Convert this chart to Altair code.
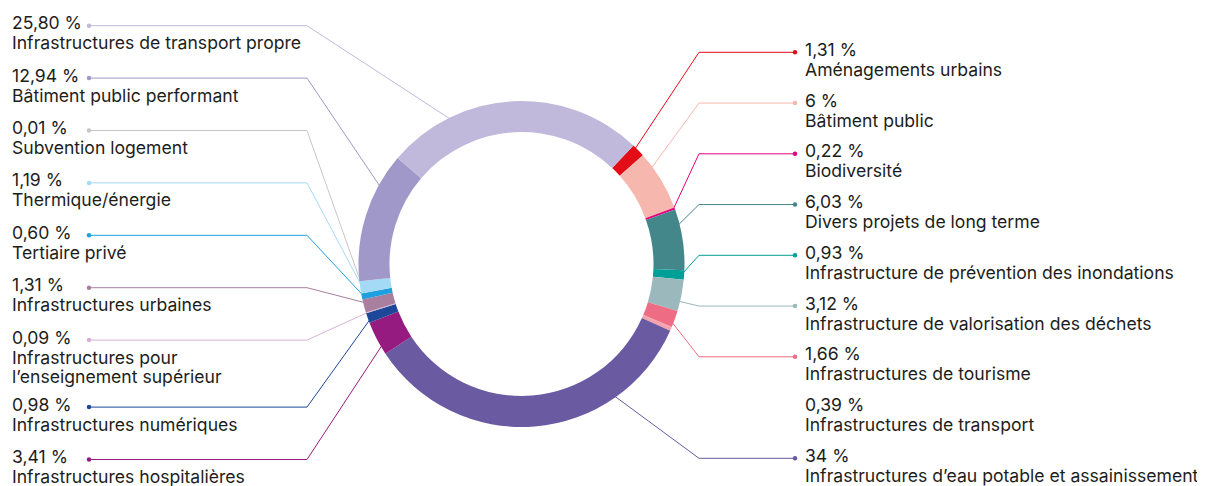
import math
import altair as alt
import pandas as pd

# ---------------- data ----------------
# right column, top -> bottom (clockwise from the top of the ring)
right_names = [
    "Aménagements urbains",
    "Bâtiment public",
    "Biodiversité",
    "Divers projets de long terme",
    "Infrastructure de prévention des inondations",
    "Infrastructure de valorisation des déchets",
    "Infrastructures de tourisme",
    "Infrastructures de transport",
    "Infrastructures d’eau potable et assainissement",
]
right_values = [1.31, 6, 0.22, 6.03, 0.93, 3.12, 1.66, 0.39, 34]
right_colors = ["#E30D18", "#F6B8AE", "#E5007D", "#44878B", "#009F97",
                "#9BB8BC", "#EE6D85", "#F4A3AF", "#6A5AA2"]

# left column, top -> bottom
left_names = [
    "Infrastructures de transport propre",
    "Bâtiment public performant",
    "Subvention logement",
    "Thermique/énergie",
    "Tertiaire privé",
    "Infrastructures urbaines",
    "Infrastructures pour\nl’enseignement supérieur",
    "Infrastructures numériques",
    "Infrastructures hospitalières",
]
left_values = [25.80, 12.94, 0.01, 1.19, 0.60, 1.31, 0.09, 0.98, 3.41]
left_colors = ["#C0B9DC", "#A098C9", "#C6C6C6", "#A4DAF6", "#1EA0E0",
               "#A87F9F", "#D8B2D6", "#1D4899", "#951B81"]

no_leader = ["Infrastructures de transport"]

# ---------------- layout ----------------
W, H = 1189, 478          # view size (page margin 8px)
OFF = 8
CX, CY = 521.5, 264.0     # ring centre (page coords)
R_OUT, R_IN = 163, 132
START_DEG = 43.4
FONT = "Inter"
FS = 17.6
TEXT_COL = "#1d1d1b"

L_TEXT_X, L_DOT_X, L_ELBOW_X = 12, 89, 307
R_TEXT_X, R_DOT_X, R_ELBOW_X = 805, 795, 699
L_Y0, L_STEP, EXTRA_LINE = 25.7, 52.4, 14.6
R_Y0, R_STEP = 52.3, 50.75


def fmt(v):
    if float(v).is_integer():
        return f"{int(v)} %"
    return f"{v:.2f}".replace(".", ",") + " %"


# clockwise order: right top->bottom, then left bottom->top
ring_names = right_names + left_names[::-1]
ring_values = right_values + left_values[::-1]
ring_colors = right_colors + left_colors[::-1]
total = sum(ring_values)

seg = {}
acc = START_DEG
for n, v in zip(ring_names, ring_values):
    span = v / total * 360
    seg[n] = (acc, acc + span)
    acc += span

ring_df = pd.DataFrame({"name": ring_names, "value": ring_values,
                        "order": list(range(len(ring_names)))})

# row positions
rows = []
y = L_Y0
for n, v in zip(left_names, left_values):
    rows.append(dict(name=n, value=v, side="L", y=y))
    y += L_STEP + EXTRA_LINE * n.count("\n")
for i, (n, v) in enumerate(zip(right_names, right_values)):
    rows.append(dict(name=n, value=v, side="R", y=R_Y0 + i * R_STEP))

line_rows, dot_rows, val_rows, name_rows = [], [], [], []
for r in rows:
    n, side, ry = r["name"], r["side"], r["y"]
    tx = L_TEXT_X if side == "L" else R_TEXT_X
    val_rows.append(dict(px=tx, py=ry + 3.5, label=fmt(r["value"])))
    name_rows.append(dict(px=tx, py=ry + 23.5, label=n))
    if n in no_leader:
        continue
    dx_ = L_DOT_X if side == "L" else R_DOT_X
    ex = L_ELBOW_X if side == "L" else R_ELBOW_X
    a0, a1 = seg[n]
    mid = (a0 + a1) / 2
    phi = math.degrees(math.atan2(ex - CX, -(ry - CY)))
    phi = mid + ((phi - mid + 180) % 360) - 180
    pad = 0.25 * (a1 - a0)
    phi = min(max(phi, a0 + pad), a1 - pad)
    rad = math.radians(phi)
    ax = CX + (R_OUT - 1) * math.sin(rad)
    ay = CY - (R_OUT - 1) * math.cos(rad)
    for s, (px, py) in enumerate([(dx_, ry), (ex, ry), (ax, ay)]):
        line_rows.append(dict(name=n, seq=s, px=px, py=py))
    dot_rows.append(dict(name=n, px=dx_, py=ry))

lines_df = pd.DataFrame(line_rows)
dots_df = pd.DataFrame(dot_rows)
vals_df = pd.DataFrame(val_rows)
names_df = pd.DataFrame(name_rows)

xs = alt.Scale(domain=[OFF, OFF + W], zero=False, nice=False)
ys = alt.Scale(domain=[OFF, OFF + H], zero=False, nice=False, reverse=True)
cs = alt.Scale(domain=ring_names, range=ring_colors)

X = alt.X("px:Q", scale=xs, axis=None)
Y = alt.Y("py:Q", scale=ys, axis=None)

leaders = alt.Chart(lines_df).mark_line(strokeWidth=1, interpolate="linear").encode(
    x=X, y=Y, detail="name:N", order="seq:Q",
    color=alt.Color("name:N", scale=cs, legend=None),
)

ring = alt.Chart(ring_df).mark_arc(radius=R_OUT, innerRadius=R_IN).encode(
    theta=alt.Theta("value:Q", stack=True,
                    scale=alt.Scale(range=[math.radians(START_DEG),
                                           math.radians(START_DEG) + 2 * math.pi])),
    order=alt.Order("order:Q"),
    color=alt.Color("name:N", scale=cs, legend=None),
    x=alt.value(CX - OFF), y=alt.value(CY - OFF),
)

dots = alt.Chart(dots_df).mark_circle(size=20, opacity=1).encode(
    x=X, y=Y, color=alt.Color("name:N", scale=cs, legend=None),
)

val_text = alt.Chart(vals_df).mark_text(
    align="left", baseline="alphabetic", font=FONT, fontSize=FS, color=TEXT_COL
).encode(x=X, y=Y, text="label:N")

name_text = alt.Chart(names_df).mark_text(
    align="left", baseline="alphabetic", font=FONT, fontSize=FS, color=TEXT_COL,
    lineBreak="\n", lineHeight=19
).encode(x=X, y=Y, text="label:N")

chart = alt.layer(leaders, ring, dots, val_text, name_text).properties(
    width=W, height=H, padding=0,
    autosize=alt.AutoSizeParams(type="none"),
).configure_view(stroke=None)

chart.save("out.html", embed_options={"renderer": "svg", "actions": False})
